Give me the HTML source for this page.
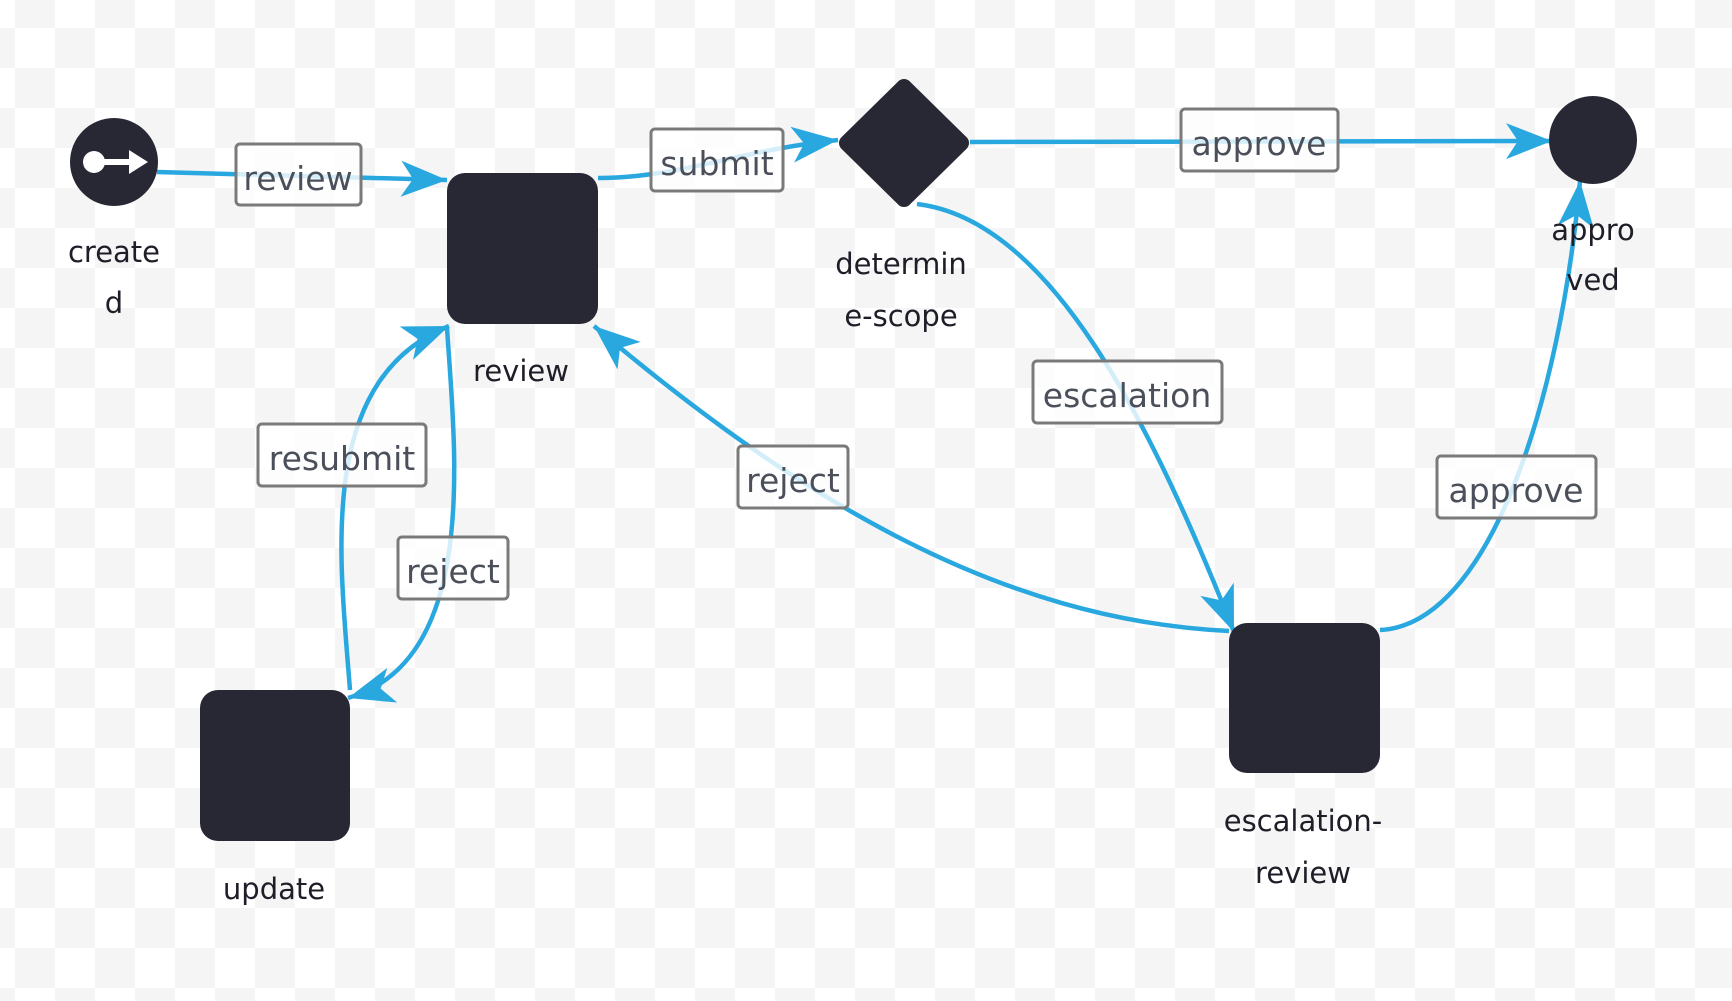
<!DOCTYPE html>
<html><head><meta charset="utf-8"><style>
html,body{margin:0;padding:0}
body{width:1732px;height:1001px;overflow:hidden;background-color:#fff;
background-image:repeating-conic-gradient(#f5f5f5 0 25%,#ffffff 0 50%);
background-size:80px 80px;background-position:15px 28px;}
svg{position:absolute;left:0;top:0}
.n{font-family:"DejaVu Sans","Liberation Sans",sans-serif;font-size:29px;fill:#1e1e28;text-anchor:middle}
.l{font-family:"DejaVu Sans","Liberation Sans",sans-serif;font-size:33px;fill:#4a4f5a;text-anchor:middle}
.b{fill:rgba(255,255,255,0.8);stroke:#7a7a7a;stroke-width:3}
.e{fill:none;stroke:#29a8e0;stroke-width:4.5}
</style></head><body>
<svg width="1732" height="1001" viewBox="0 0 1732 1001">
<defs>
<marker id="a" markerUnits="userSpaceOnUse" markerWidth="50" markerHeight="40" refX="46" refY="18" orient="auto">
<path d="M0,0 L46,18 L0,36 L12,18 Z" fill="#29a8e0"/>
</marker>
</defs>
<path class="e" d="M157,172 L447,180" marker-end="url(#a)"/>
<path class="e" d="M598,178 C680,178 740,150 838,140" marker-end="url(#a)"/>
<path class="e" d="M970,142 L1552,141" marker-end="url(#a)"/>
<path class="e" d="M917,204 C1050,220 1150,420 1234,632" marker-end="url(#a)"/>
<path class="e" d="M1229,631 C1000,620 800,500 594,326" marker-end="url(#a)"/>
<path class="e" d="M1380,630 C1490,625 1560,400 1580,181" marker-end="url(#a)"/>
<path class="e" d="M350,690 C340,560 315,380 449,326" marker-end="url(#a)"/>
<path class="e" d="M447,328 C455,450 480,660 348,698" marker-end="url(#a)"/>
<circle cx="114" cy="162" r="44" fill="#282834"/>
<circle cx="94" cy="162" r="11" fill="#fff"/>
<rect x="94" y="159" width="38" height="6" fill="#fff"/>
<path d="M129,150 L148,162 L129,174 Z" fill="#fff"/>
<rect x="447" y="173" width="151" height="151" rx="18" fill="#282834"/>
<polygon points="904,87 961,143 904,199 847,143" fill="#282834" stroke="#282834" stroke-width="16" stroke-linejoin="round"/>
<circle cx="1593" cy="140" r="44" fill="#282834"/>
<rect x="200" y="690" width="150" height="151" rx="18" fill="#282834"/>
<rect x="1229" y="623" width="151" height="150" rx="18" fill="#282834"/>
<text class="n" x="114" y="262">create</text>
<text class="n" x="114" y="313">d</text>
<text class="n" x="521" y="381">review</text>
<text class="n" x="901" y="274">determin</text>
<text class="n" x="901" y="326">e-scope</text>
<text class="n" x="1593" y="240">appro</text>
<text class="n" x="1593" y="290">ved</text>
<text class="n" x="274" y="899">update</text>
<text class="n" x="1303" y="831">escalation-</text>
<text class="n" x="1303" y="883">review</text>
<rect class="b" x="236" y="144" width="125" height="61" rx="4"/><text class="l" x="298" y="190">review</text>
<rect class="b" x="651" y="129" width="132" height="62" rx="4"/><text class="l" x="717" y="175">submit</text>
<rect class="b" x="1181" y="109" width="157" height="62" rx="4"/><text class="l" x="1259" y="155">approve</text>
<rect class="b" x="1033" y="361" width="189" height="62" rx="4"/><text class="l" x="1127" y="407">escalation</text>
<rect class="b" x="258" y="424" width="168" height="62" rx="4"/><text class="l" x="342" y="470">resubmit</text>
<rect class="b" x="398" y="537" width="110" height="62" rx="4"/><text class="l" x="453" y="583">reject</text>
<rect class="b" x="738" y="446" width="110" height="62" rx="4"/><text class="l" x="793" y="492">reject</text>
<rect class="b" x="1437" y="456" width="159" height="62" rx="4"/><text class="l" x="1516" y="502">approve</text>
</svg>
</body></html>
